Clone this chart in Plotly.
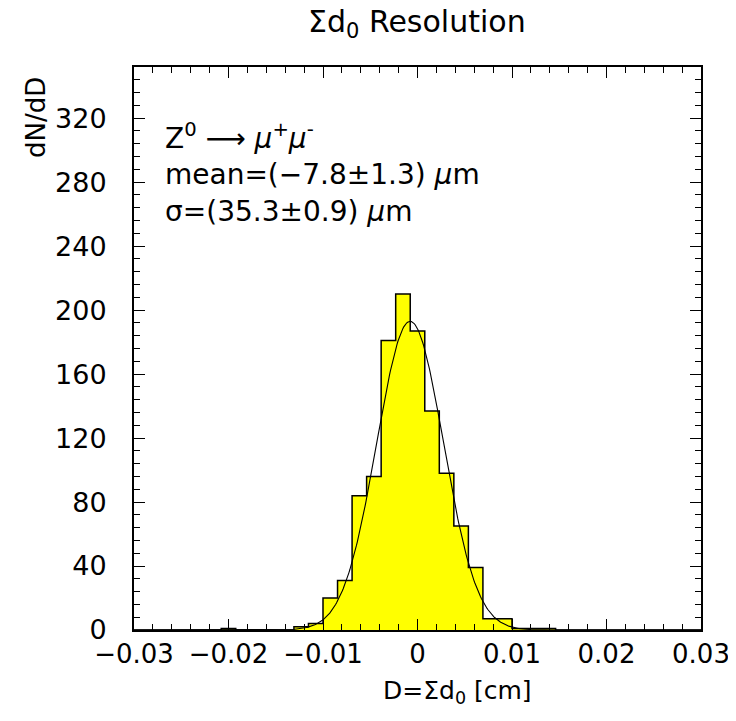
import numpy as np
import plotly.graph_objects as go

# ---- data ----
x_min, x_max = -0.03, 0.03          # histogram range [cm]
n_bins = 39
counts = [0, 0, 0, 0, 0, 0, 1, 0, 0, 0,
          0, 2, 4, 20, 31, 84, 96, 181, 210, 187,
          137, 98, 65, 39, 7, 7, 1, 1, 1, 0,
          0, 0, 0, 0, 0, 0, 0, 0, 0]
fit_mean = -0.00078     # cm  (-7.8 um)
fit_sigma = 0.00353     # cm  (35.3 um)
fit_peak = 193.0

x_ticks = [-0.03, -0.02, -0.01, 0, 0.01, 0.02, 0.03]
x_tick_labels = ["\u22120.03", "\u22120.02", "\u22120.01", "0", "0.01", "0.02", "0.03"]
y_ticks = [0, 40, 80, 120, 160, 200, 240, 280, 320]

# ---- derived ----
width = (x_max - x_min) / n_bins
edges = np.linspace(x_min, x_max, n_bins + 1)
centers = (edges[:-1] + edges[1:]) / 2
xs = np.linspace(x_min, x_max, 600)
ys = fit_peak * np.exp(-0.5 * ((xs - fit_mean) / fit_sigma) ** 2)

FONT = "DejaVu Sans"
fig = go.Figure()
fig.add_trace(go.Bar(x=centers, y=counts, width=width,
                     marker=dict(color="#ffff00", line=dict(width=0)),
                     showlegend=False, hoverinfo="skip"))
fig.add_trace(go.Scatter(x=list(edges), y=list(counts) + [counts[-1]],
                         mode="lines", line=dict(shape="hv", color="black", width=1.5),
                         showlegend=False, hoverinfo="skip"))
fig.add_trace(go.Scatter(x=xs, y=ys, mode="lines",
                         line=dict(color="black", width=1.1),
                         showlegend=False, hoverinfo="skip"))

OFF = 8  # page body margin
W, H = 736 - OFF, 721 - OFF
L, R, T, B = 134 - OFF, 35, 67 - OFF, 91
pw, ph = W - L - R, H - T - B

def px(xp):
    return (xp - OFF - L) / pw

def py(yp):
    return (OFF + H - B - yp) / ph

fig.update_layout(
    width=W, height=H,
    margin=dict(l=L, r=R, t=T, b=B, autoexpand=False),
    paper_bgcolor="white", plot_bgcolor="white",
    bargap=0,
    font=dict(family=FONT, color="black", size=25),
    xaxis=dict(range=[x_min, x_max], tickvals=x_ticks, ticktext=x_tick_labels,
               ticks="inside", ticklen=11, tickwidth=1.2, tickcolor="black",
               minor=dict(dtick=0.002, ticks="inside", ticklen=6, tickwidth=1, tickcolor="black"),
               showline=True, linecolor="black", linewidth=2, mirror="ticks",
               showgrid=False, zeroline=False, automargin=False,
               tickfont=dict(family=FONT, size=26, color="black")),
    yaxis=dict(range=[0, 352], tickvals=y_ticks,
               ticks="inside", ticklen=11, tickwidth=1.2, tickcolor="black",
               minor=dict(dtick=8, ticks="inside", ticklen=6, tickwidth=1, tickcolor="black"),
               showline=True, linecolor="black", linewidth=2, mirror="ticks",
               showgrid=False, zeroline=False, ticklabelstandoff=20, automargin=False,
               tickfont=dict(family=FONT, size=27, color="black")),
)

# title as an annotation
fig.add_annotation(x=px(417), y=py(23), xref="paper", yref="paper",
                   xanchor="center", yanchor="middle", showarrow=False,
                   text="\u03a3d<sub>0</sub> Resolution",
                   font=dict(family=FONT, size=30, color="black"))

ann_font = dict(family=FONT, size=28, color="black")
fig.add_annotation(x=px(163), y=py(136), xref="paper", yref="paper",
                   xanchor="left", yanchor="middle", showarrow=False,
                   text="Z<sup>0</sup> \u27f6 <i>\u03bc</i><sup>+</sup><i>\u03bc</i><sup>-</sup>",
                   font=ann_font)
fig.add_annotation(x=px(163), y=py(174), xref="paper", yref="paper",
                   xanchor="left", yanchor="middle", showarrow=False,
                   text="mean=(\u22127.8\u00b11.3) <i>\u03bc</i>m", font=ann_font)
fig.add_annotation(x=px(163), y=py(211), xref="paper", yref="paper",
                   xanchor="left", yanchor="middle", showarrow=False,
                   text="\u03c3=(35.3\u00b10.9) <i>\u03bc</i>m", font=ann_font)
fig.add_annotation(x=px(457), y=py(692), xref="paper", yref="paper",
                   xanchor="center", yanchor="middle", showarrow=False,
                   text="D=\u03a3d<sub>0</sub> [cm]", font=dict(family=FONT, size=25, color="black"))
fig.add_annotation(x=px(36), y=py(118), xref="paper", yref="paper",
                   xanchor="center", yanchor="middle", showarrow=False, textangle=-90,
                   text="dN/dD", font=dict(family=FONT, size=26, color="black"))

fig.write_html("out.html")
